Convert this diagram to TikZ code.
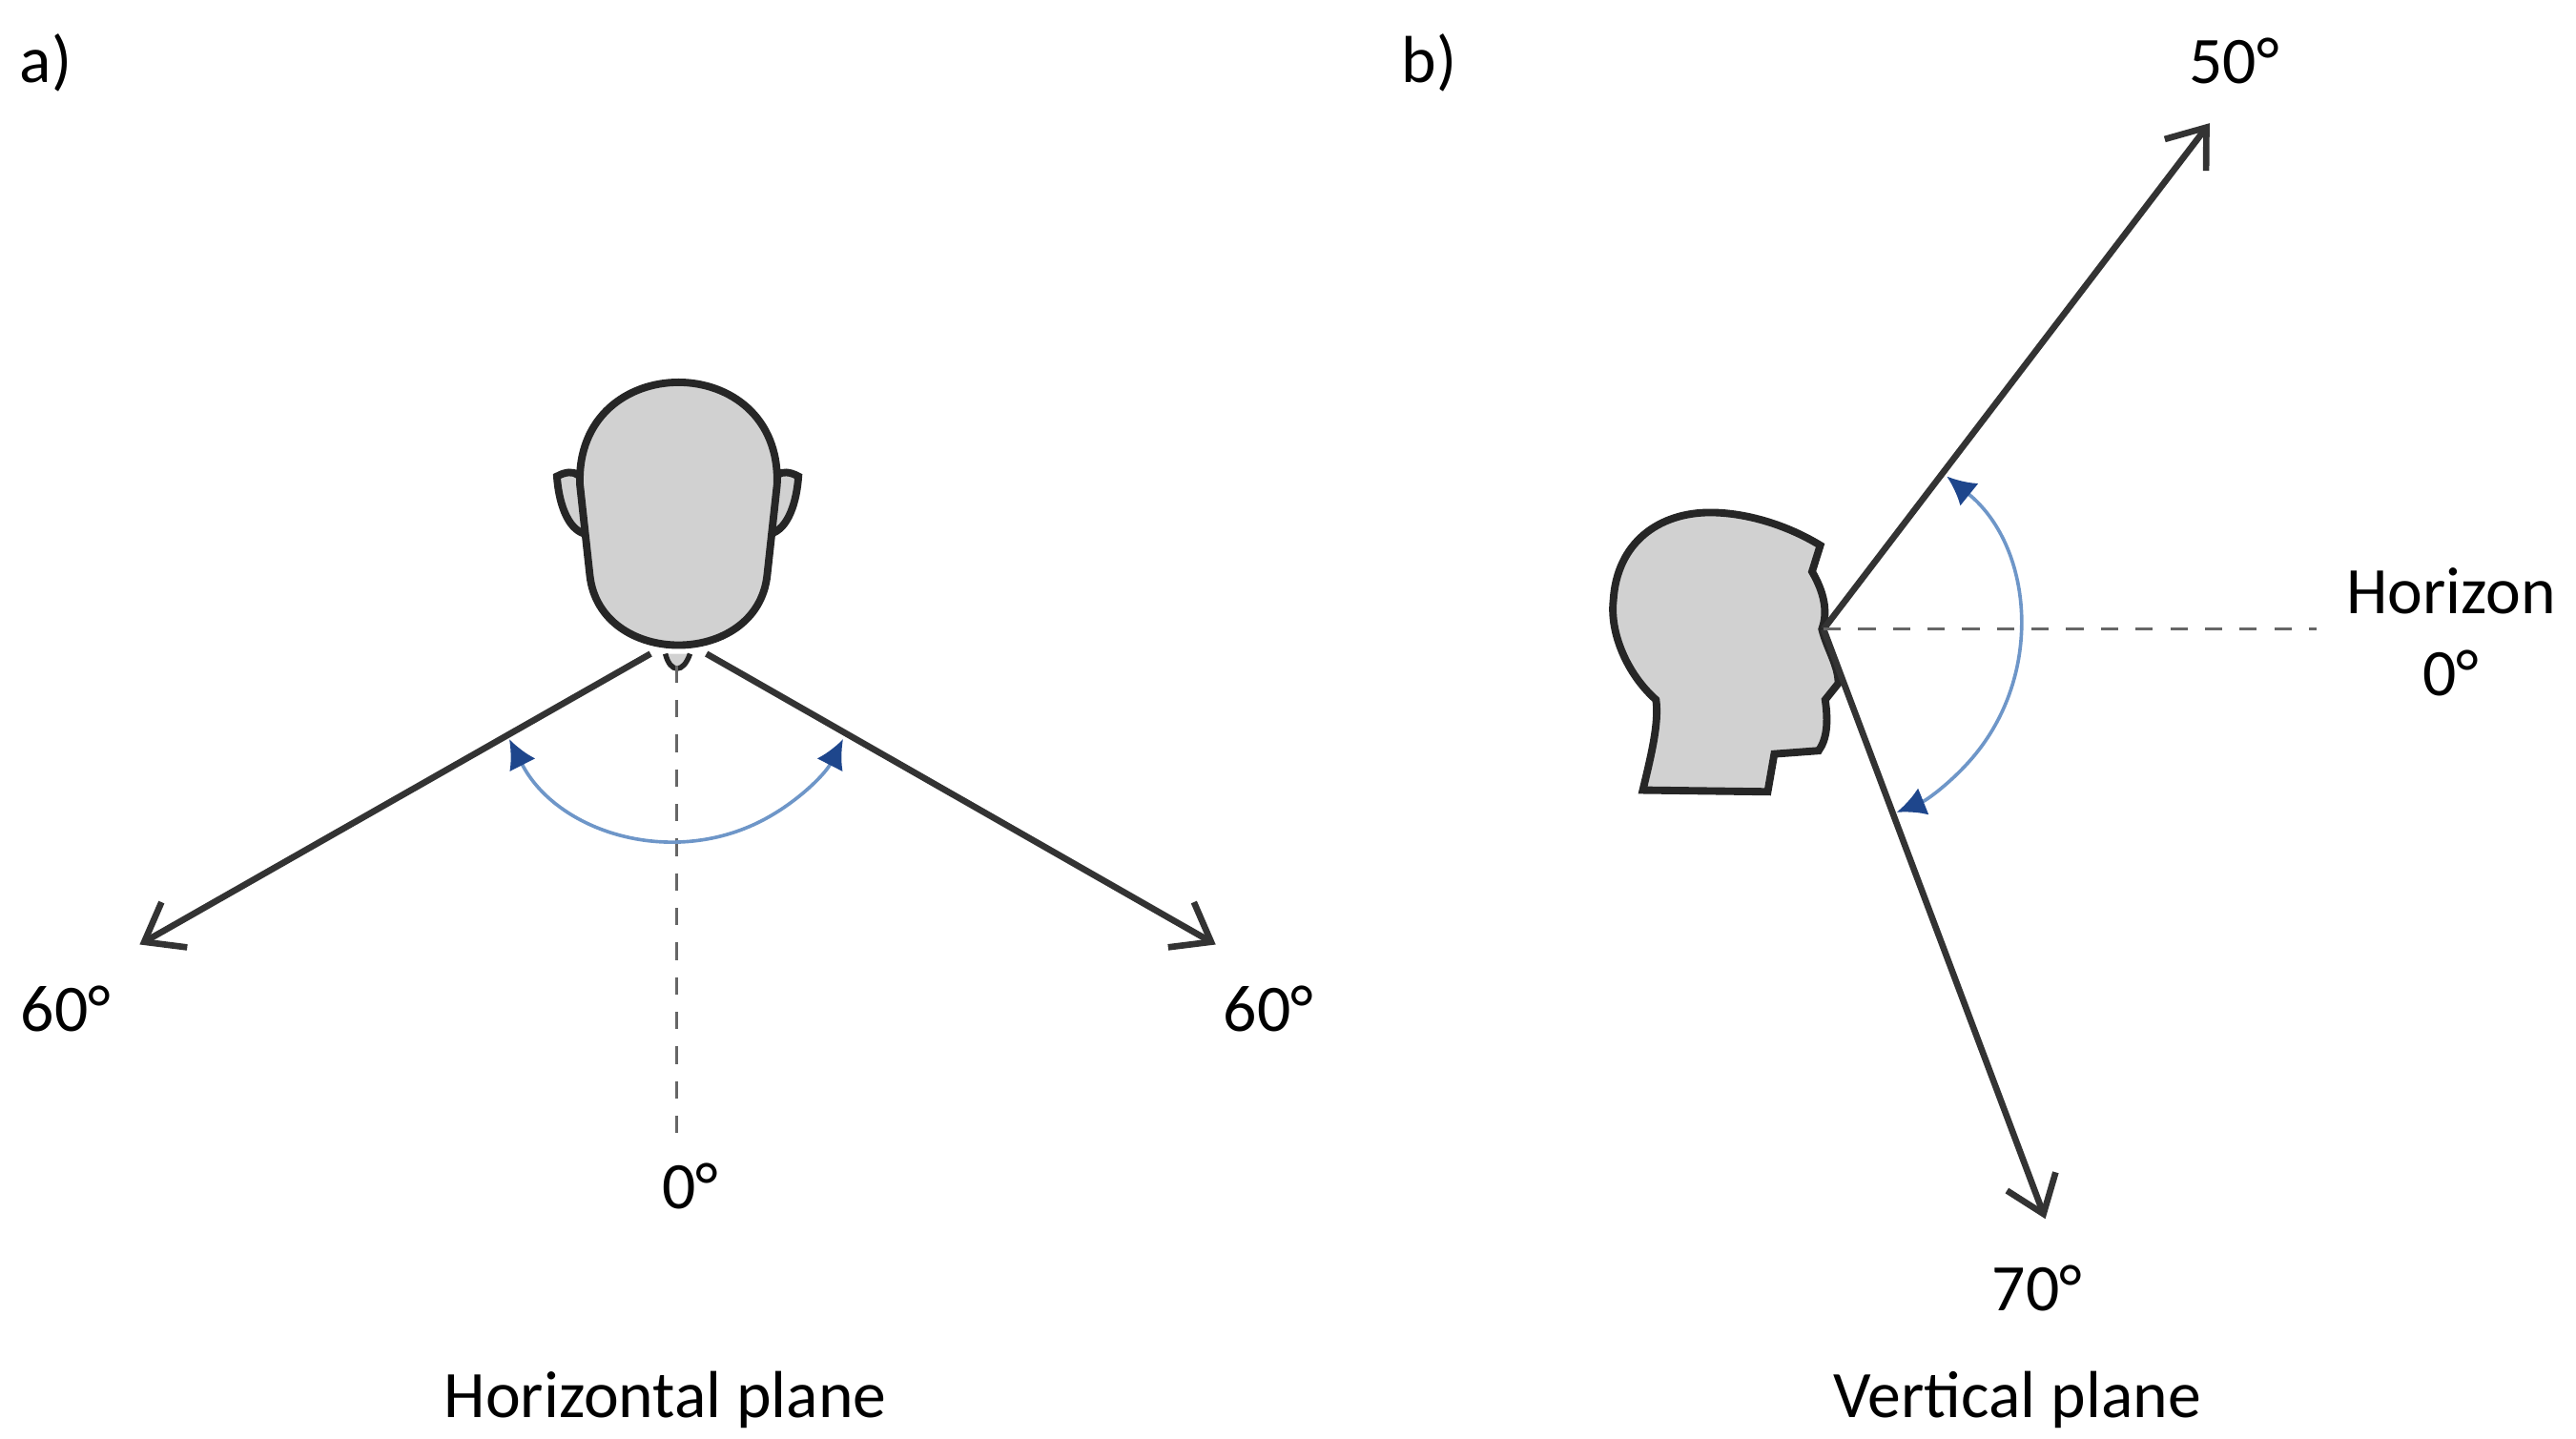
\documentclass[tikz,border=0pt]{standalone}
\usepackage{fontspec}
\setmainfont{Carlito}
\usetikzlibrary{arrows.meta}
\definecolor{arcline}{RGB}{110,150,200}
\definecolor{arctip}{RGB}{30,70,140}
\begin{document}
\begin{tikzpicture}[x=0.01cm,y=-0.01cm,
  ray/.style={line width=1.1pt,draw=black!80,-{Straight Barb[length=6pt,width=9pt]}},
  guide/.style={dashed,draw=black!60,line width=0.5pt},
  arcb/.style={draw=arcline,line width=0.6pt,{Latex[length=5pt,width=5pt,color=arctip]}-{Latex[length=5pt,width=5pt,color=arctip]}},
  head/.style={fill=black!18,draw=black!85,line width=1.3pt},
  lbl/.style={font=\fontsize{11.5}{13}\selectfont}]
\useasboundingbox (0,0) rectangle (1568,876);
% a)
\node[lbl] (la) at (28,38) {a)};
\draw[head] (339,290) .. controls (350,284) and (356,290) .. (356,300) -- (356,325) .. controls (345,322) and (340,305) .. (339,290) -- cycle;
\draw[head] (486,290) .. controls (475,284) and (469,290) .. (469,300) -- (469,325) .. controls (480,322) and (485,305) .. (486,290) -- cycle;
\draw[head] (353,295) .. controls (350,212) and (476,212) .. (473,295) -- (467,350) .. controls (461,407) and (365,407) .. (359,350) -- cycle;
\draw[head,line width=0.9pt] (405,398) .. controls (408,410) and (416,410) .. (420,398);
\coordinate (oa) at (412,398);
\coordinate (al) at (85,575);
\coordinate (ar) at (740,575);
\coordinate (ad) at (412,690);
\draw[ray] (396,398) -- (al);
\draw[ray] (430,398) -- (ar);
\draw[guide] (412,405) -- (ad);
\draw[arcb] (310,450) arc[start angle=153,end angle=27,radius=114];
\node[lbl] (a60l) at (40,614) {60°};
\node[lbl] (a60r) at (772,614) {60°};
\node[lbl] (a0) at (420,722) {0°};
\node[lbl] (ah) at (405,852) {Horizontal plane};
% b)
\node[lbl] (lb) at (870,38) {b)};
\draw[head] (1041,312) .. controls (1060,312) and (1085,318) .. (1108,332) -- (1103,348) .. controls (1110,360) and (1113,372) .. (1109,383) .. controls (1112,395) and (1119,405) .. (1119,416) -- (1111,426) .. controls (1113,440) and (1112,450) .. (1107,457) -- (1080,459) -- (1076,482) -- (1000,481) .. controls (1005,460) and (1010,440) .. (1008,426) .. controls (990,410) and (980,385) .. (982,366) .. controls (984,330) and (1010,312) .. (1041,312) -- cycle;
\coordinate (ob) at (1110,383);
\coordinate (b50) at (1345,75);
\coordinate (b70) at (1245,742);
\coordinate (bh) at (1410,383);
\draw[ray] (ob) -- (b50);
\draw[ray] (ob) -- (b70);
\draw[guide] (ob) -- (bh);
\draw[arcb] (1185,290) arc[start angle=-51,end angle=68,radius=120];
\node[lbl] (t50) at (1360,37) {50°};
\node[lbl] (th) at (1492,360) {Horizon};
\node[lbl] (t0) at (1492,410) {0°};
\node[lbl] (t70) at (1240,784) {70°};
\node[lbl] (tv) at (1228,852) {Vertical plane};
\end{tikzpicture}
\end{document}
